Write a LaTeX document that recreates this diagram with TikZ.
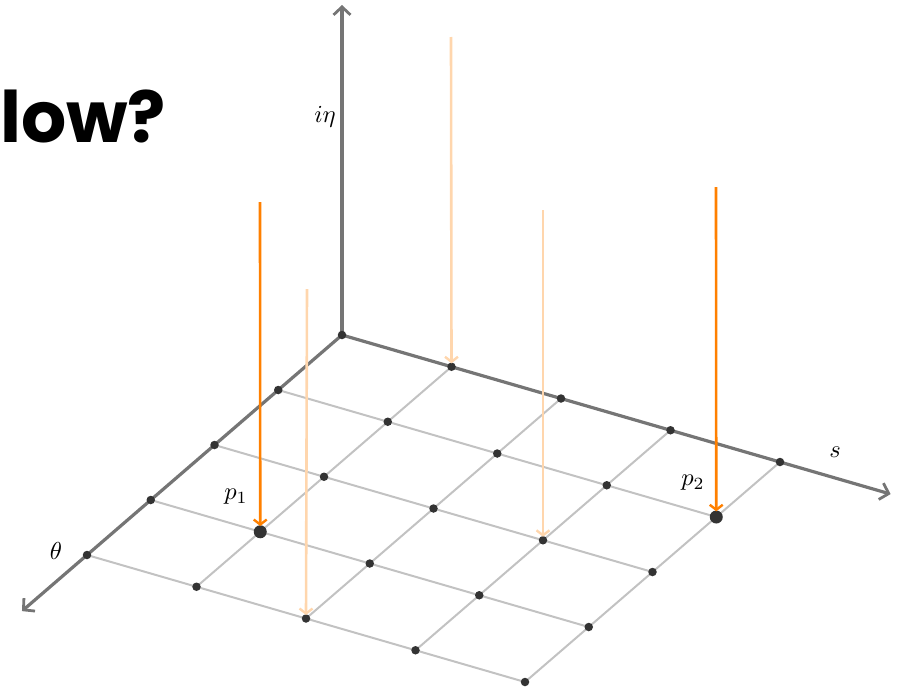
\documentclass[tikz,border=0pt]{standalone}
\usepackage{graphicx}
\usepackage{fontspec}
\newfontfamily\popfont{Poppins}
\usetikzlibrary{arrows.meta}
\definecolor{axisgray}{HTML}{757575}
\definecolor{gridgray}{HTML}{C2C2C2}
\definecolor{dotdark}{HTML}{333333}
\definecolor{orangedark}{HTML}{FF8000}
\definecolor{orangelight}{HTML}{FFD6AD}
\newcommand{\biglab}[1]{\scalebox{2.45}{$#1$}}
\tikzset{
  axisline/.style={draw=axisgray, line width=3.2pt, -{Straight Barb[length=8pt,width=17pt,line width=2.8pt]}},
  gridline/.style={draw=gridgray, line width=2pt},
  griddot/.style={circle, fill=dotdark, inner sep=0pt, minimum size=8.5pt},
  bigdot/.style={circle, fill=dotdark, inner sep=0pt, minimum size=13pt},
  hotarrow/.style={draw=orangedark, line width=2.6pt, -{Straight Barb[length=5pt,width=13pt,line width=2.4pt]}, shorten >=-1pt},
  softarrow/.style={draw=orangelight, line width=2.6pt, -{Straight Barb[length=5pt,width=13pt,line width=2.4pt]}, shorten >=-1pt},
  mathlabel/.style={inner sep=0pt},
}
\begin{document}
\begin{tikzpicture}[x=1pt,y=-1pt]
\useasboundingbox (0,0) rectangle (907,688);
% grid coordinates
\foreach \i in {0,...,4}{
  \foreach \j in {0,...,4}{
    \coordinate (g-\i-\j) at ({342-63.75*\i+109.5*\j},{335+55*\i+31.75*\j});
  }
}
% grid lines
\foreach \i in {1,...,4}{
  \draw[gridline] (g-\i-0) -- (g-\i-4);
  \draw[gridline] (g-0-\i) -- (g-4-\i);
}
% axes
\coordinate (sEnd) at ({342+109.5*5.01},{335+31.75*5.01});
\coordinate (tEnd) at ({342-63.75*5.02},{335+55*5.02});
\coordinate (eEnd) at (342,5);
\draw[axisline] (g-0-0) -- (sEnd);
\draw[axisline] (g-0-0) -- (tEnd);
\draw[axisline] (g-0-0) -- (eEnd);
% dots
\foreach \i in {0,...,4}{
  \foreach \j in {0,...,4}{
    \node[griddot] (d-\i-\j) at (g-\i-\j) {};
  }
}
\node[bigdot] (p1) at (g-3-1) {};
\node[bigdot] (p2) at (g-1-4) {};
% labels
\node[mathlabel] (leta) at (325,117) {\biglab{i\eta}};
\node[mathlabel] (ls) at (835,452) {\biglab{s}};
\node[mathlabel] (ltheta) at (56,551) {\biglab{\theta}};
\node[mathlabel] (lp1) at (236,497) {\biglab{p_1}};
\node[mathlabel] (lp2) at (693,483) {\biglab{p_2}};
% arrows
\coordinate (a1) at (260,202);
\coordinate (a2) at (716,187);
\coordinate (a3) at (451,37);
\coordinate (a4) at (307,289);
\coordinate (a5) at (543,210);
\draw[softarrow] (a3) -- (d-0-1);
\draw[softarrow] (a4) -- (d-4-2);
\draw[softarrow] (a5) -- (d-2-3);
\draw[hotarrow] (a1) -- (p1);
\draw[hotarrow] (a2) -- (p2);
% title fragment
\node[anchor=base west, inner sep=0pt, font=\popfont\bfseries\fontsize{71}{80}\selectfont, text=black] (title) at (0,142) {low?};
\end{tikzpicture}
\end{document}
